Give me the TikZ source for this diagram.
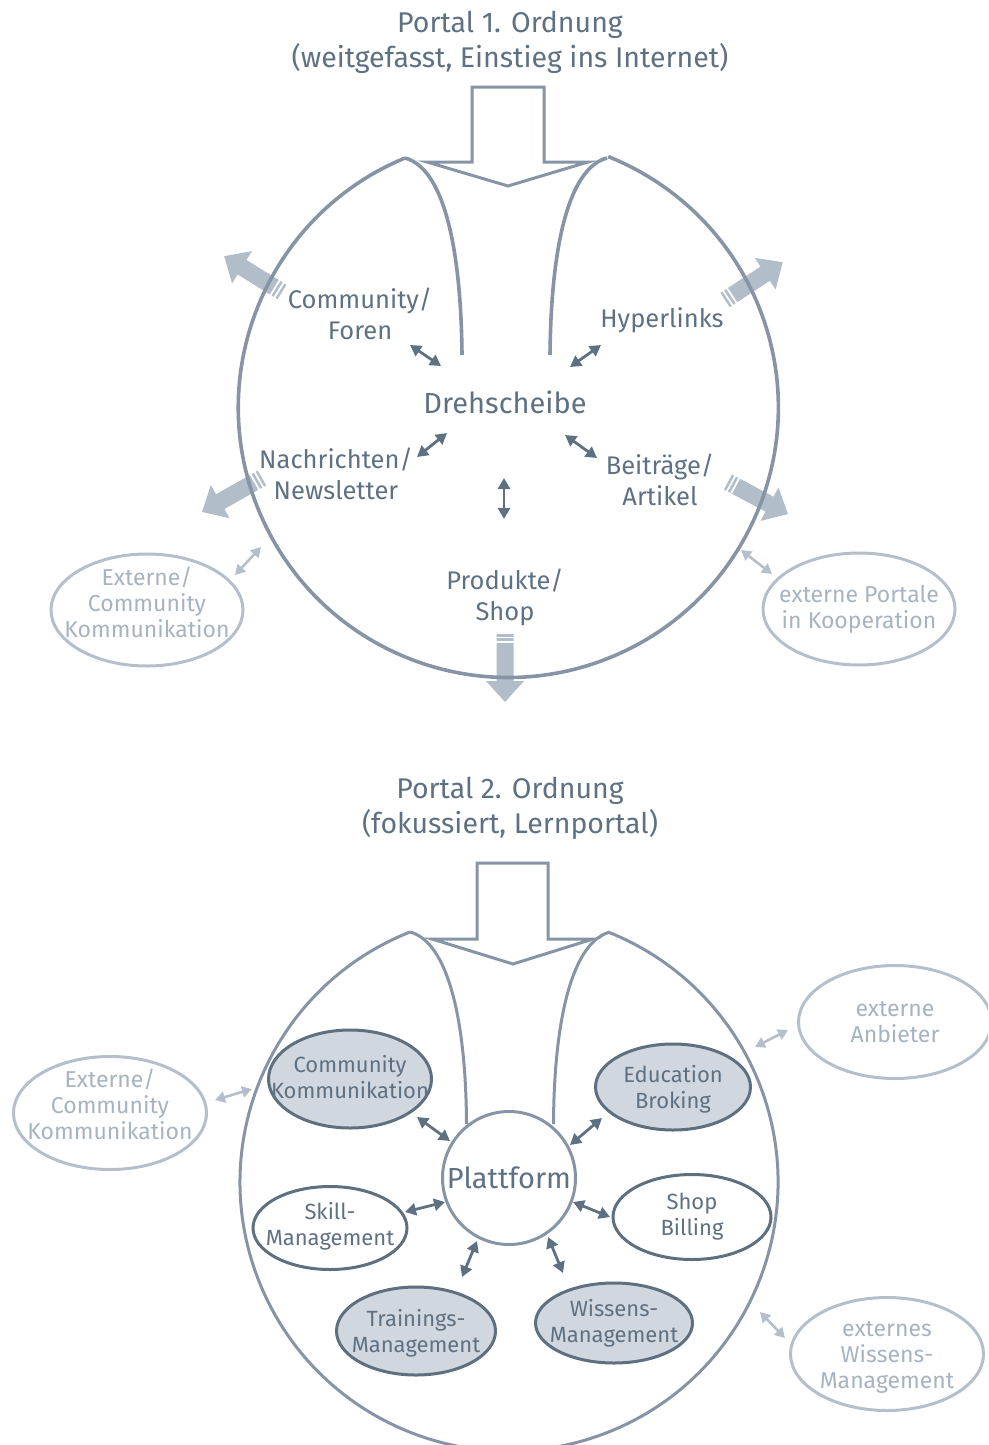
\documentclass[tikz,border=0pt]{standalone}
\usepackage{fontspec}
\setmainfont{Fira Sans}
\usetikzlibrary{arrows.meta,shapes.geometric}
\definecolor{txt}{HTML}{5E7183}
\definecolor{outl}{HTML}{8694A5}
\definecolor{bigarr}{HTML}{B1BDC9}
\definecolor{lightl}{HTML}{B4BFCB}
\definecolor{lighttxt}{HTML}{A7B3C0}
\definecolor{ellfill}{HTML}{D0D7DF}
\definecolor{elldraw}{HTML}{5E6F80}
\definecolor{arrdark}{HTML}{5E7183}
\newcommand\fatarrow[3]{%
\begin{scope}[shift={#1},rotate=#2]
\fill[bigarr] (0,8.5) -- (#3-21,8.5) -- (#3-21,19) -- (#3,0) -- (#3-21,-19) -- (#3-21,-8.5) -- (0,-8.5) -- cycle;
\fill[white] (2.6,-10) rectangle (4.4,10);
\fill[white] (7.2,-10) rectangle (9,10);
\end{scope}}
\begin{document}
\begin{tikzpicture}[x=1pt,y=-1pt,
  outline/.style={draw=outl,line width=3.6pt,line join=round},
  title/.style={text=txt,align=center,inner sep=0pt,font=\fontsize{28.5}{35}\selectfont},
  lbl/.style={text=txt,align=center,inner sep=0pt,font=\fontsize{25.5}{31}\selectfont},
  big/.style={text=txt,align=center,inner sep=0pt,font=\fontsize{29}{32}\selectfont},
  etxt/.style={text=txt,align=center,inner sep=0pt,font=\fontsize{22}{26}\selectfont},
  ltxt/.style={text=lighttxt,align=center,inner sep=0pt,font=\fontsize{23}{26}\selectfont},
  fillell/.style={ellipse,draw=elldraw,fill=ellfill,line width=3pt,inner sep=0pt},
  whiteell/.style={ellipse,draw=elldraw,fill=white,line width=3pt,inner sep=0pt},
  lightell/.style={ellipse,draw=lightl,line width=3pt,inner sep=0pt},
  dbl/.style={draw=arrdark,line width=2.8pt,{Triangle[length=11pt,width=12pt]}-{Triangle[length=11pt,width=12pt]}},
  ldbl/.style={draw=lightl,line width=2.6pt,{Triangle[length=10pt,width=11pt]}-{Triangle[length=10pt,width=11pt]}}
]
\useasboundingbox (0,0) rectangle (988,1445);
\clip (0,0) rectangle (988,1445);

%%%%%%%%%%%%%%%% TOP DIAGRAM %%%%%%%%%%%%%%%%
\node[title] (t1) at (510,42) {Portal 1. Ordnung\\(weitgefasst, Einstieg ins Internet)};

% fat arrows
\fatarrow{(282,292)}{148.2}{68}
\fatarrow{(725,300)}{33.2}{69}
\fatarrow{(262,478)}{209.5}{69}
\fatarrow{(728,482)}{-28.1}{68}
\fatarrow{(505,634)}{-90}{68}

% outer circle and inner curves
\coordinate (lp1) at (405,158);
\coordinate (rp1) at (607,158);
\coordinate (le1) at (462,355);
\coordinate (re1) at (550,355);
\draw[outline] (lp1) arc[start angle=247.5, end angle=-68.3, radius=270];
\draw[outline] (lp1) .. controls (443,168) and (461,245) .. (le1);
\draw[outline] (rp1) .. controls (569,168) and (551,245) .. (re1);

% entry arrow
\draw[draw=outl,line width=3pt,fill=white,line join=miter]
  (472,87) -- (544,87) -- (544,162) -- (588,162) -- (508,186) -- (427,162) -- (472,162) -- cycle;

% labels
\node[big] (dreh) at (505,402) {Drehscheibe};
\node[lbl] (comm) at (360,314) {Community/\\Foren};
\node[lbl] (hyp) at (662,320) {Hyperlinks};
\node[lbl] (nach) at (336,474) {Nachrichten/\\Newsletter};
\node[lbl] (beit) at (660,480) {Beiträge/\\Artikel};
\node[lbl] (prod) at (505,597) {Produkte/\\Shop};

\node[lightell,minimum width=192pt,minimum height=112pt,label={[ltxt,yshift=8pt]center:{Externe/\\Community\\Kommunikation}}] (ec1) at (147,610) {};
\node[lightell,minimum width=192pt,minimum height=112pt,label={[ltxt]center:{externe Portale\\in Kooperation}}] (ep1) at (859,609) {};

% small arrows
\coordinate (a1) at (410,345); \coordinate (b1) at (441,366);
\coordinate (a2) at (601,345); \coordinate (b2) at (570,367);
\coordinate (a3) at (417,457); \coordinate (b3) at (447,433);
\coordinate (a4) at (565,435); \coordinate (b4) at (597,458);
\coordinate (a5) at (504,478); \coordinate (b5) at (504,519);
\draw[dbl] (a1) -- (b1);
\draw[dbl] (a2) -- (b2);
\draw[dbl] (a3) -- (b3);
\draw[dbl] (a4) -- (b4);
\draw[dbl] (a5) -- (b5);
\coordinate (la1) at (235,575); \coordinate (lb1) at (261,547);
\coordinate (la2) at (741,550); \coordinate (lb2) at (772,574);
\draw[ldbl] (la1) -- (lb1);
\draw[ldbl] (la2) -- (lb2);

%%%%%%%%%%%%%%%% BOTTOM DIAGRAM %%%%%%%%%%%%%%%%
\node[title] (t2) at (510,808) {Portal 2. Ordnung\\(fokussiert, Lernportal)};

\coordinate (lp2) at (410,932);
\coordinate (rp2) at (610,932);
\node[circle,draw=outl,line width=3pt,minimum size=133pt,inner sep=0pt,big] (plat) at (509,1178) {Plattform};
\coordinate (le2) at (466.5,1124);
\coordinate (re2) at (553.5,1124);
\draw[outline,line width=3pt] (lp2) arc[start angle=248.4, end angle=-68.0, radius=269];
\draw[outline,line width=3pt] (lp2) .. controls (448,942) and (466,1020) .. (le2);
\draw[outline,line width=3pt] (rp2) .. controls (572,942) and (554,1020) .. (re2);

\draw[draw=outl,line width=3pt,fill=white,line join=miter]
  (477,863) -- (548,863) -- (548,939) -- (593,939) -- (513,964) -- (432,939) -- (477,939) -- cycle;

\node[fillell,minimum width=163pt,minimum height=98pt,label={[etxt,yshift=2pt]center:{Community\\Kommunikation}}] (ck) at (350,1079) {};
\node[fillell,minimum width=155pt,minimum height=86pt,label={[etxt,yshift=-2pt]center:{Education\\Broking}}] (eb) at (673,1087) {};
\node[whiteell,minimum width=154pt,minimum height=83pt,label={[etxt,yshift=2pt]center:{Skill-\\Management}}] (sm) at (330,1228) {};
\node[whiteell,minimum width=158pt,minimum height=85pt,label={[etxt]center:{Shop\\Billing}}] (sb) at (692,1217) {};
\node[fillell,minimum width=159pt,minimum height=88pt,label={[etxt,yshift=-2pt]center:{Trainings-\\Management}}] (tm) at (416,1331) {};
\node[fillell,minimum width=157pt,minimum height=80pt,label={[etxt]center:{Wissens-\\Management}}] (wm) at (614,1323) {};

\node[lightell,minimum width=193pt,minimum height=113pt,label={[ltxt,yshift=9pt]center:{Externe/\\Community\\Kommunikation}}] (ec2) at (110,1113) {};
\node[lightell,minimum width=193pt,minimum height=113pt,label={[ltxt]center:{externe\\Anbieter}}] (ea2) at (895,1022) {};
\node[lightell,minimum width=193pt,minimum height=113pt,label={[ltxt,yshift=-3pt]center:{externes\\Wissens-\\Management}}] (ew2) at (887,1354) {};

\coordinate (c1) at (417,1117); \coordinate (d1) at (450,1141);
\coordinate (c2) at (570,1145); \coordinate (d2) at (602,1118);
\coordinate (c3) at (405,1212); \coordinate (d3) at (445,1202);
\coordinate (c4) at (573,1202); \coordinate (d4) at (610,1217);
\coordinate (c5) at (477,1241); \coordinate (d5) at (462,1277);
\coordinate (c6) at (548,1237); \coordinate (d6) at (563,1273);
\draw[dbl] (c1) -- (d1);
\draw[dbl] (c2) -- (d2);
\draw[dbl] (c3) -- (d3);
\draw[dbl] (c4) -- (d4);
\draw[dbl] (c5) -- (d5);
\draw[dbl] (c6) -- (d6);
\coordinate (lc1) at (215,1100); \coordinate (ld1) at (252,1089);
\coordinate (lc2) at (755,1047); \coordinate (ld2) at (788,1030);
\coordinate (lc3) at (760,1312); \coordinate (ld3) at (785,1338);
\draw[ldbl] (lc1) -- (ld1);
\draw[ldbl] (lc2) -- (ld2);
\draw[ldbl] (lc3) -- (ld3);
\end{tikzpicture}
\end{document}
